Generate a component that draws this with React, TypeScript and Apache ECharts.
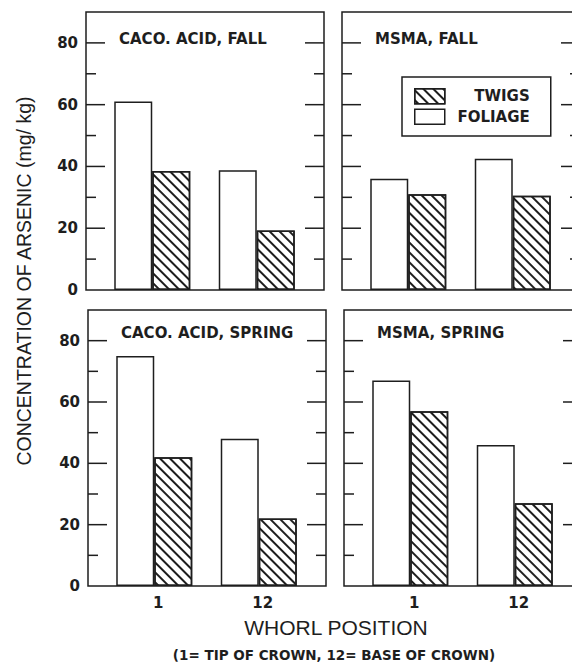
import React, { useEffect, useRef } from 'react';
import * as echarts from 'echarts';

// ---- data ----
const whorlPositions = ['1', '12'];
const legendNames = ['TWIGS', 'FOLIAGE'];
const panelTitles = ['CACO. ACID, FALL', 'MSMA, FALL', 'CACO. ACID, SPRING', 'MSMA, SPRING'];

const foliageCacoFall = [61, 38.8];
const twigsCacoFall = [38.5, 19.3];
const foliageMsmaFall = [36, 42.5];
const twigsMsmaFall = [31, 30.5];
const foliageCacoSpring = [75, 48];
const twigsCacoSpring = [42, 22];
const foliageMsmaSpring = [67, 46];
const twigsMsmaSpring = [57, 27];

const yMin = 0;
const yMax = 90;
const yMajorInterval = 20;
const yMinorInterval = 10;

const yTitle = 'CONCENTRATION OF ARSENIC (mg/ kg)';
const xTitle = 'WHORL POSITION';
const xSubtitle = '(1= TIP OF CROWN, 12= BASE OF CROWN)';

// ---- layout / style ----
const INK = '#1e1e1e';
const LETTER = 'DejaVu Sans';
const PLAIN = 'Liberation Sans';
const panelWidth = 238;
const innerOffset = 14;
const innerWidth = 209;
const majorTickLen = 19;
const minorTickLen = 10;
const panels = [
  { left: 86, top: 12, height: 278, isLeft: true, isBottom: false, titleY: 39 },
  { left: 342, top: 12, height: 278, isLeft: false, isBottom: false, titleY: 39 },
  { left: 88, top: 310, height: 276, isLeft: true, isBottom: true, titleY: 333 },
  { left: 344, top: 310, height: 276, isLeft: false, isBottom: true, titleY: 333 },
];
const panelFoliage = [foliageCacoFall, foliageMsmaFall, foliageCacoSpring, foliageMsmaSpring];
const panelTwigs = [twigsCacoFall, twigsMsmaFall, twigsCacoSpring, twigsMsmaSpring];

const majorTickValues: number[] = [];
for (let v = yMin + yMajorInterval; v < yMax; v += yMajorInterval) majorTickValues.push(v);
const minorTickValues: number[] = [];
for (let v = yMin + yMinorInterval; v < yMax; v += yMajorInterval) minorTickValues.push(v);

const hatch = {
  symbol: 'rect',
  symbolSize: 1,
  dashArrayX: [1, 0],
  dashArrayY: [1.3, 4.4],
  rotation: Math.PI / 4,
  color: INK,
  backgroundColor: '#ffffff',
};

// frame + inward ticks on both sides, placed from the grid's own coordinate system
function renderFrame(params: any, api: any) {
  const cs = params.coordSys;
  const left = cs.x - innerOffset;
  const right = left + panelWidth;
  const top = cs.y;
  const lineStyle = { stroke: INK, lineWidth: 1.5, fill: 'none' };
  const children: any[] = [
    {
      type: 'rect',
      shape: { x: left, y: top, width: panelWidth, height: cs.height },
      style: { stroke: INK, lineWidth: 1.5, fill: 'none' },
    },
  ];
  const addTicks = (values: number[], len: number) => {
    values.forEach((v) => {
      const yy = api.coord([0, v])[1];
      children.push({ type: 'line', shape: { x1: left, y1: yy, x2: left + len, y2: yy }, style: lineStyle });
      children.push({ type: 'line', shape: { x1: right - len, y1: yy, x2: right, y2: yy }, style: lineStyle });
    });
  };
  addTicks(majorTickValues, majorTickLen);
  addTicks(minorTickValues, minorTickLen);
  return { type: 'group', children };
}

function buildOption() {
  const grid: any[] = [];
  const xAxis: any[] = [];
  const yAxis: any[] = [];
  const series: any[] = [];
  const graphic: any[] = [];

  panels.forEach((p, i) => {
    grid.push({
      left: p.left + innerOffset, top: p.top, width: innerWidth, height: p.height,
      outerBoundsMode: 'none',
    });
    xAxis.push({
      gridIndex: i,
      type: 'category',
      data: whorlPositions,
      axisLine: { show: false },
      axisTick: { show: false },
      splitLine: { show: false },
      axisLabel: {
        show: p.isBottom,
        color: INK,
        fontFamily: LETTER,
        fontWeight: 'bold',
        fontSize: 15,
        margin: 9,
        padding: [0, 0, 0, 8],
      },
    });
    yAxis.push({
      gridIndex: i,
      type: 'value',
      position: 'left',
      offset: innerOffset,
      min: yMin,
      max: yMax,
      interval: yMajorInterval,
      axisLine: { show: false, onZero: false },
      axisTick: { show: false },
      splitLine: { show: false },
      axisLabel: {
        show: p.isLeft,
        showMaxLabel: false,
        color: INK,
        fontFamily: LETTER,
        fontWeight: 'bold',
        fontSize: 15,
        margin: 8,
      },
    });

    const barBase = {
      type: 'bar',
      xAxisIndex: i,
      yAxisIndex: i,
      barWidth: 38,
      barGap: '0%',
    };
    series.push({
      ...barBase,
      name: 'FOLIAGE',
      data: panelFoliage[i],
      itemStyle: { color: '#ffffff', borderColor: INK, borderWidth: 1.5 },
    });
    series.push({
      ...barBase,
      name: 'TWIGS',
      data: panelTwigs[i],
      itemStyle: { color: '#ffffff', borderColor: INK, borderWidth: 1.5, decal: hatch },
    });
    series.push({
      type: 'custom',
      name: 'frame',
      xAxisIndex: i,
      yAxisIndex: i,
      data: [[0, 0]],
      clip: false,
      silent: true,
      z: 3,
      renderItem: renderFrame,
    });

    graphic.push({
      type: 'text',
      x: p.left + 33,
      y: p.titleY,
      style: {
        text: panelTitles[i],
        fill: INK,
        fontFamily: LETTER,
        fontWeight: 'bold',
        fontSize: 15,
        align: 'left',
        verticalAlign: 'middle',
      },
    });
  });

  graphic.push({
    type: 'text',
    x: 24,
    y: 281,
    rotation: Math.PI / 2,
    style: {
      text: yTitle, fill: INK, fontFamily: PLAIN, fontSize: 19.5,
      align: 'center', verticalAlign: 'middle',
    },
  });
  graphic.push({
    type: 'text',
    x: 336,
    y: 627,
    style: {
      text: xTitle, fill: INK, fontFamily: PLAIN, fontSize: 21,
      align: 'center', verticalAlign: 'middle',
    },
  });
  graphic.push({
    type: 'text',
    x: 334,
    y: 655,
    style: {
      text: xSubtitle, fill: INK, fontFamily: LETTER, fontWeight: 'bold', fontSize: 13.5,
      align: 'center', verticalAlign: 'middle',
    },
  });

  return {
    animation: false,
    backgroundColor: '#ffffff',
    grid,
    xAxis,
    yAxis,
    series,
    graphic,
    legend: {
      data: legendNames,
      orient: 'vertical',
      left: 402,
      top: 77,
      padding: [11, 21, 11, 12],
      itemGap: 4,
      itemWidth: 30,
      itemHeight: 15,
      icon: 'rect',
      selectedMode: false,
      borderColor: INK,
      borderWidth: 1.5,
      backgroundColor: '#ffffff',
      z: 10,
      itemStyle: { borderColor: INK, borderWidth: 1.5 },
      formatter: (name: string) => `{r|${name}}`,
      textStyle: {
        color: INK,
        fontFamily: LETTER,
        fontWeight: 'bold',
        fontSize: 15,
        rich: {
          r: {
            width: 80,
            align: 'right',
            color: INK,
            fontFamily: LETTER,
            fontWeight: 'bold',
            fontSize: 15,
            lineHeight: 16,
          },
        },
      },
    },
  };
}

export default function App() {
  const ref = useRef<HTMLDivElement>(null);
  useEffect(() => {
    if (!ref.current) return;
    const chart = echarts.init(ref.current, undefined, { renderer: 'svg' });
    chart.setOption(buildOption() as any);
    return () => chart.dispose();
  }, []);
  return (
    <div
      ref={ref}
      style={{ position: 'absolute', left: 0, top: 0, width: 572, height: 664, background: '#fff' }}
    />
  );
}
